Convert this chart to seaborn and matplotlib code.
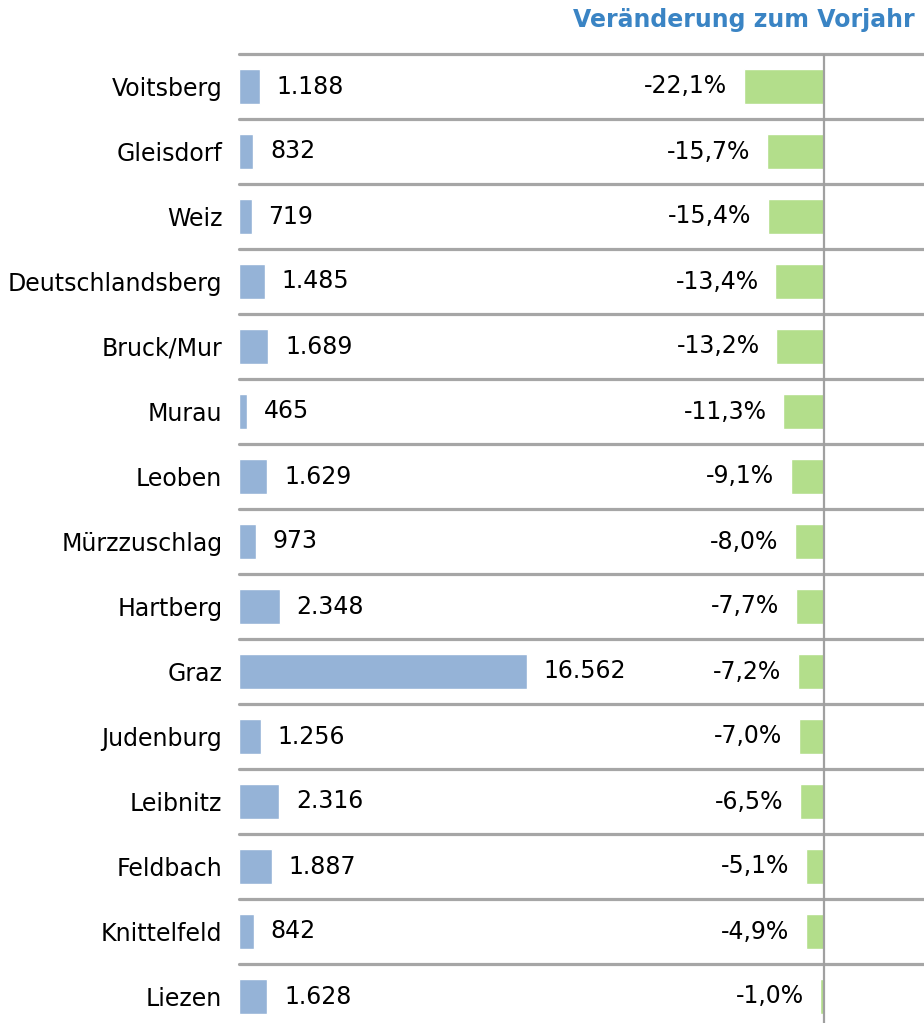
import matplotlib
matplotlib.use("Agg")
import matplotlib.pyplot as plt
import seaborn as sns
import pandas as pd

# Data
districts = ["Voitsberg", "Gleisdorf", "Weiz", "Deutschlandsberg", "Bruck/Mur", "Murau",
             "Leoben", "Mürzzuschlag", "Hartberg", "Graz", "Judenburg", "Leibnitz",
             "Feldbach", "Knittelfeld", "Liezen"]
values = [1188, 832, 719, 1485, 1689, 465, 1629, 973, 2348, 16562, 1256, 2316, 1887, 842, 1628]
change_pct = [-22.1, -15.7, -15.4, -13.4, -13.2, -11.3, -9.1, -8.0, -7.7, -7.2, -7.0, -6.5,
              -5.1, -4.9, -1.0]

df = pd.DataFrame({"district": districts, "value": values, "change": change_pct})

sns.set_style("white")
plt.rcParams["font.family"] = ["DejaVu Sans"]
plt.rcParams["text.color"] = "black"
plt.rcParams["ytick.color"] = "black"

W, H = 924, 1023
fig = plt.figure(figsize=(W / 100, H / 100), dpi=100)

# axes: left edge at 239 px, top row line at 54 px, row pitch 65 px
top_px, pitch = 54, 65
n = len(districts)
ax_h = pitch * n
ax1 = fig.add_axes([239 / W, (H - top_px - ax_h) / H, (W - 239) / W, ax_h / H])

blue = "#95b3d7"
green = "#b3de8b"
grid_col = "#a6a6a6"

sns.barplot(data=df, x="value", y="district", ax=ax1, color=blue, width=0.54,
            orient="h", saturation=1)
ax1.set_xlim(0, (W - 239) / 0.017389)

ax2 = ax1.twiny()
sns.barplot(data=df, x="change", y="district", ax=ax2, color=green, width=0.54,
            orient="h", saturation=1)
ax2.set_xlim(-(824 - 239) / 3.62, (W - 824) / 3.62)

ax1.set_ylim(n - 0.5, -0.5)
ax2.set_ylim(n - 0.5, -0.5)

# row separators and the zero line
for k in range(n + 1):
    ax1.axhline(k - 0.5, color=grid_col, lw=2.3, zorder=0, clip_on=False)
ax2.axvline(0, color="#a0a0a0", lw=1.6, zorder=3)

# labels
fs = 17
ax1.bar_label(ax1.containers[0], labels=[f"{v:,}".replace(",", ".") for v in values],
              padding=12, fontsize=fs, color="black")
ax2.bar_label(ax2.containers[0],
              labels=[f"{v:.1f}%".replace(".", ",") for v in change_pct],
              padding=12, fontsize=fs, color="black")

for ax in (ax1, ax2):
    ax.set_xlabel("")
    ax.set_ylabel("")
    ax.set_xticks([])
    for s in ax.spines.values():
        s.set_visible(False)

ax1.tick_params(axis="y", length=0, pad=12, labelsize=fs, labelcolor="black")
ax2.tick_params(axis="y", length=0)

fig.text(915 / W, 1 - 20 / H, "Veränderung zum Vorjahr", ha="right", va="center",
         fontsize=17, fontweight="bold", color="#3a84c4")

fig.savefig("out.png", dpi=100)
